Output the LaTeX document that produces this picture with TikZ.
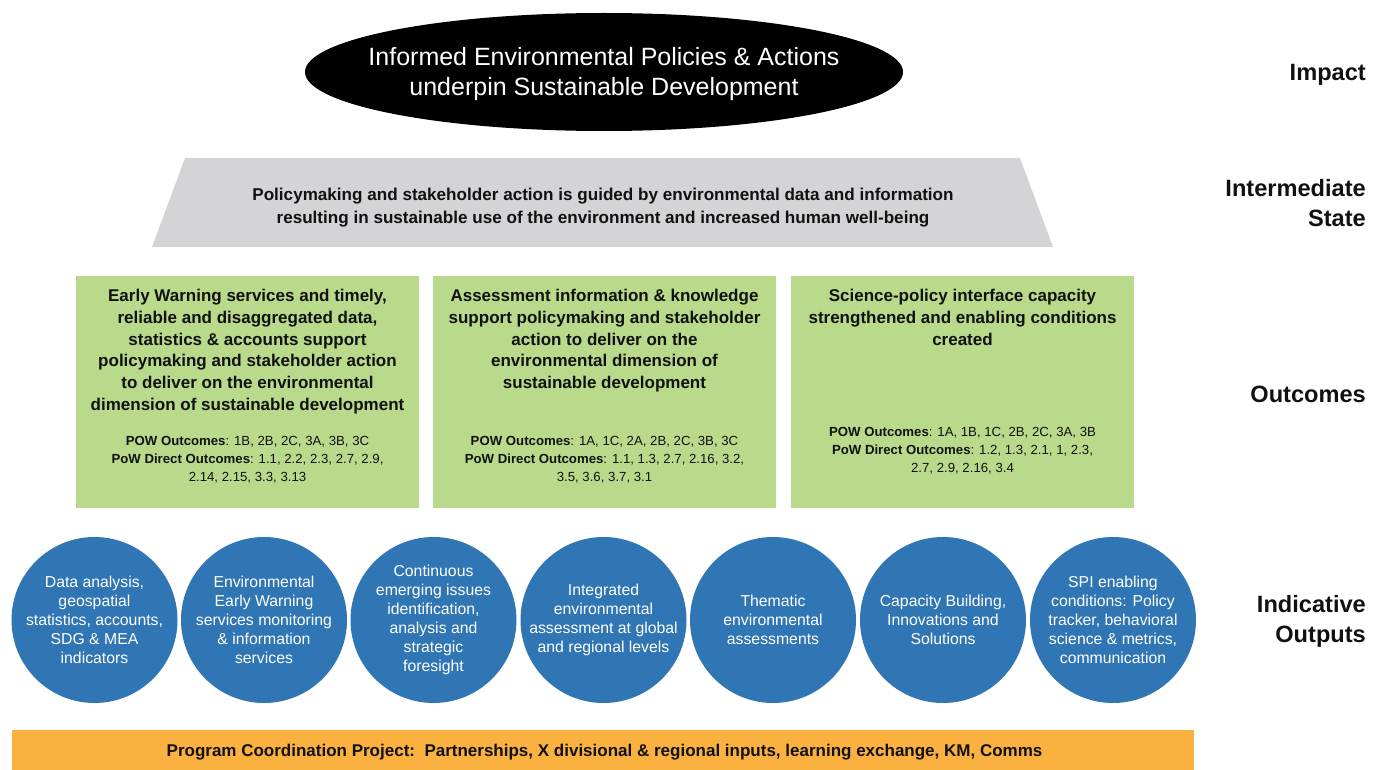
\documentclass[tikz,border=0pt]{standalone}
\usepackage{fontspec}
\setmainfont{Liberation Sans}
\usetikzlibrary{shapes.geometric}
\definecolor{gboxc}{HTML}{B9DA8B}
\definecolor{bluec}{HTML}{3076B4}
\definecolor{grayc}{HTML}{D4D4D6}
\definecolor{orangec}{HTML}{FBB13F}
\definecolor{txtc}{HTML}{111111}
\tikzset{
  gbox/.style={fill=gboxc, minimum width=343, minimum height=232, inner sep=0},
  gtitle/.style={align=center, text=txtc, inner sep=0, font=\bfseries\fontsize{17}{21.8}\selectfont},
  pow/.style={align=center, text=txtc, inner sep=0, font=\fontsize{13.2}{18}\selectfont},
  outc/.style={circle, fill=bluec, minimum size=166, inner sep=0, text=white, align=center, font=\fontsize{15.8}{19}\selectfont},
  lvl/.style={anchor=east, align=right, text=txtc, inner sep=0, font=\bfseries\fontsize{23.6}{30}\selectfont},
}
\begin{document}
\begin{tikzpicture}[x=1pt,y=-1pt]
\useasboundingbox (0,0) rectangle (1382,770);
% impact ellipse
\node[ellipse, fill=black, minimum width=598, minimum height=118, inner sep=0, text=white, align=center, font=\fontsize{25}{30}\selectfont] (imp) at (604,72) {};
\node[text=white, align=center, inner sep=0, font=\fontsize{25}{30}\selectfont] (impt) at (604,74) {Informed Environmental Policies \& Actions\\underpin Sustainable Development};
% trapezoid
\coordinate (tl) at (185,158);
\coordinate (tr) at (1020,158);
\coordinate (br) at (1053,247);
\coordinate (bl) at (152,247);
\fill[grayc] (tl) -- (tr) -- (br) -- (bl) -- cycle;
\node[align=center, text=txtc, inner sep=0, font=\bfseries\fontsize{17.1}{23}\selectfont] (inter) at (603,208) {Policymaking and stakeholder action is guided by environmental data and information\\resulting in sustainable use of the environment and increased human well-being};
% outcomes
\node[gbox] (o1) at (247.5,392) {};
\node[gbox] (o2) at (604.5,392) {};
\node[gbox] (o3) at (962.5,392) {};
\node[gtitle, anchor=north] (o1t) at (o1.north |- 0,289) {Early Warning services and timely,\\reliable and disaggregated data,\\statistics \& accounts support\\policymaking and stakeholder action\\to deliver on the environmental\\dimension of sustainable development};
\node[gtitle, anchor=north] (o2t) at (o2.north |- 0,289) {Assessment information \& knowledge\\support policymaking and stakeholder\\action to deliver on the\\environmental dimension of\\sustainable development};
\node[gtitle, anchor=north] (o3t) at (o3.north |- 0,289) {Science-policy interface capacity\\strengthened and enabling conditions\\created};
\node[pow] (o1p) at (247.5,460) {\textbf{POW Outcomes}: 1B, 2B, 2C, 3A, 3B, 3C\\\textbf{PoW Direct Outcomes}: 1.1, 2.2, 2.3, 2.7, 2.9,\\2.14, 2.15, 3.3, 3.13};
\node[pow] (o2p) at (604.5,460) {\textbf{POW Outcomes}: 1A, 1C, 2A, 2B, 2C, 3B, 3C\\\textbf{PoW Direct Outcomes}: 1.1, 1.3, 2.7, 2.16, 3.2,\\3.5, 3.6, 3.7, 3.1};
\node[pow] (o3p) at (962.5,451) {\textbf{POW Outcomes}: 1A, 1B, 1C, 2B, 2C, 3A, 3B\\\textbf{PoW Direct Outcomes}: 1.2, 1.3, 2.1, 1, 2.3,\\2.7, 2.9, 2.16, 3.4};
% outputs
\node[outc] (c1) at (94.5,620) {Data analysis,\\geospatial\\statistics, accounts,\\SDG \& MEA\\indicators};
\node[outc] (c2) at (264,620) {Environmental\\Early Warning\\services monitoring\\\& information\\services};
\node[outc] (c3) at (433.5,620) {Continuous\\emerging issues\\identification,\\analysis and\\strategic\\foresight};
\node[outc] (c4) at (603.5,620) {Integrated\\environmental\\assessment at global\\and regional levels};
\node[outc] (c5) at (773,620) {Thematic\\environmental\\assessments};
\node[outc] (c6) at (943,620) {Capacity Building,\\Innovations and\\Solutions};
\node[outc] (c7) at (1113,620) {SPI enabling\\conditions: Policy\\tracker, behavioral\\science \& metrics,\\communication};
% coordination bar
\node[fill=orangec, minimum width=1182, minimum height=41, inner sep=0, text=txtc, font=\bfseries\fontsize{17}{18}\selectfont] (bar) at (603,750) {};
\node[inner sep=0, text=txtc, font=\bfseries\fontsize{17}{18}\selectfont] (bart) at (604.5,752) {Program Coordination Project:\ \ Partnerships, X divisional \& regional inputs, learning exchange, KM, Comms};
% level labels
\node[lvl] (limp) at (1366,75) {Impact};
\node[lvl] (lint) at (1366,203) {Intermediate\\State};
\node[lvl] (lout) at (1366,394) {Outcomes};
\node[lvl] (lind) at (1366,621) {Indicative\\Outputs};
\end{tikzpicture}
\end{document}
